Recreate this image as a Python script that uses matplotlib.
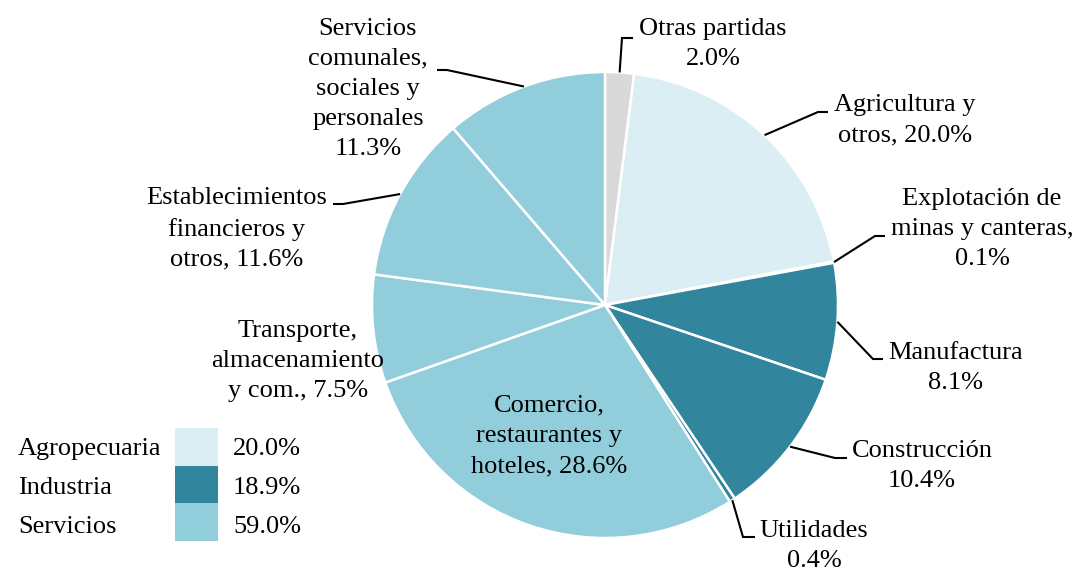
import matplotlib
matplotlib.use('Agg')
import matplotlib.pyplot as plt
from matplotlib.patches import Rectangle
import numpy as np

plt.rcParams['font.family'] = 'Liberation Serif'

# Data
sectores = ['Otras partidas\n2.0%',
            'Agricultura y\notros, 20.0%',
            'Explotación de\nminas y canteras,\n0.1%',
            'Manufactura\n8.1%',
            'Construcción\n10.4%',
            'Utilidades\n0.4%',
            'Comercio,\nrestaurantes y\nhoteles, 28.6%',
            'Transporte,\nalmacenamiento\ny com., 7.5%',
            'Establecimientos\nfinancieros y\notros, 11.6%',
            'Servicios\ncomunales,\nsociales y\npersonales\n11.3%']
valores = [2.0, 20.0, 0.1, 8.1, 10.4, 0.4, 28.6, 7.5, 11.6, 11.3]
grupo = ['otras', 'agro', 'ind', 'ind', 'ind', 'ind', 'serv', 'serv', 'serv', 'serv']

leyenda_nombres = ['Agropecuaria', 'Industria', 'Servicios']
leyenda_valores = ['20.0%', '18.9%', '59.0%']

colores = {'otras': '#d9d9d9', 'agro': '#daeef3', 'ind': '#31859c', 'serv': '#92cddc'}

W, H = 1077, 570
CX, CY, R = 605, 305, 233
FS = 19


def px(x, y):
    # pixel position -> data coords (pie radius = 1)
    return (x - CX) / R, (CY - y) / R


fig = plt.figure(figsize=(W / 100, H / 100), dpi=100)
ax = fig.add_axes([0, 0, 1, 1])

wedges, _ = ax.pie(valores, colors=[colores[g] for g in grupo], startangle=90,
                   counterclock=False, radius=1,
                   wedgeprops=dict(edgecolor='white', linewidth=1.8))

x0, y0 = px(0, H)
x1, y1 = px(W, 0)
ax.set_xlim(x0, x1)
ax.set_ylim(y0, y1)
ax.axis('off')

# label layout: text centre, elbow, end of horizontal segment (pixels)
layout = [
    ((713, 44), (622, 38), (633, 38)),
    ((905, 120), (818, 112), (828, 112)),
    ((982, 229), (875, 236), (885, 236)),
    ((956, 368), (873, 359), (883, 359)),
    ((922, 466), (835, 458), (847, 458)),
    ((814, 546), (743, 537), (755, 537)),
    ((549, 436), None, None),
    ((298, 361), None, None),
    ((237, 229), (343, 204), (333, 204)),
    ((368, 89), (447, 70), (437, 70)),
]

for w, lab, (tc, elbow, end) in zip(wedges, sectores, layout):
    ax.text(*px(*tc), lab, ha='center', va='center', fontsize=FS,
            multialignment='center', linespacing=1.48)
    if elbow is not None:
        ang = np.deg2rad((w.theta1 + w.theta2) / 2)
        a = (np.cos(ang) * 1.0, np.sin(ang) * 1.0)
        e = px(*elbow)
        f = px(*end)
        ax.plot([a[0], e[0], f[0]], [a[1], e[1], f[1]], color='black',
                lw=1.5, solid_capstyle='butt', solid_joinstyle='miter')

# legend
top0, row_h = 428, 37.7
for i, (nom, val, g) in enumerate(zip(leyenda_nombres, leyenda_valores, ['agro', 'ind', 'serv'])):
    top = top0 + i * row_h
    bx, by = px(175, top + row_h)
    ax.add_patch(Rectangle((bx, by), 43 / R, row_h / R, facecolor=colores[g],
                           edgecolor='none'))
    yc = 449 + i * 39
    ax.text(*px(18, yc), nom, ha='left', va='center', fontsize=FS)
    ax.text(*px(233, yc), val, ha='left', va='center', fontsize=FS)

fig.savefig('out.png', dpi=100)
